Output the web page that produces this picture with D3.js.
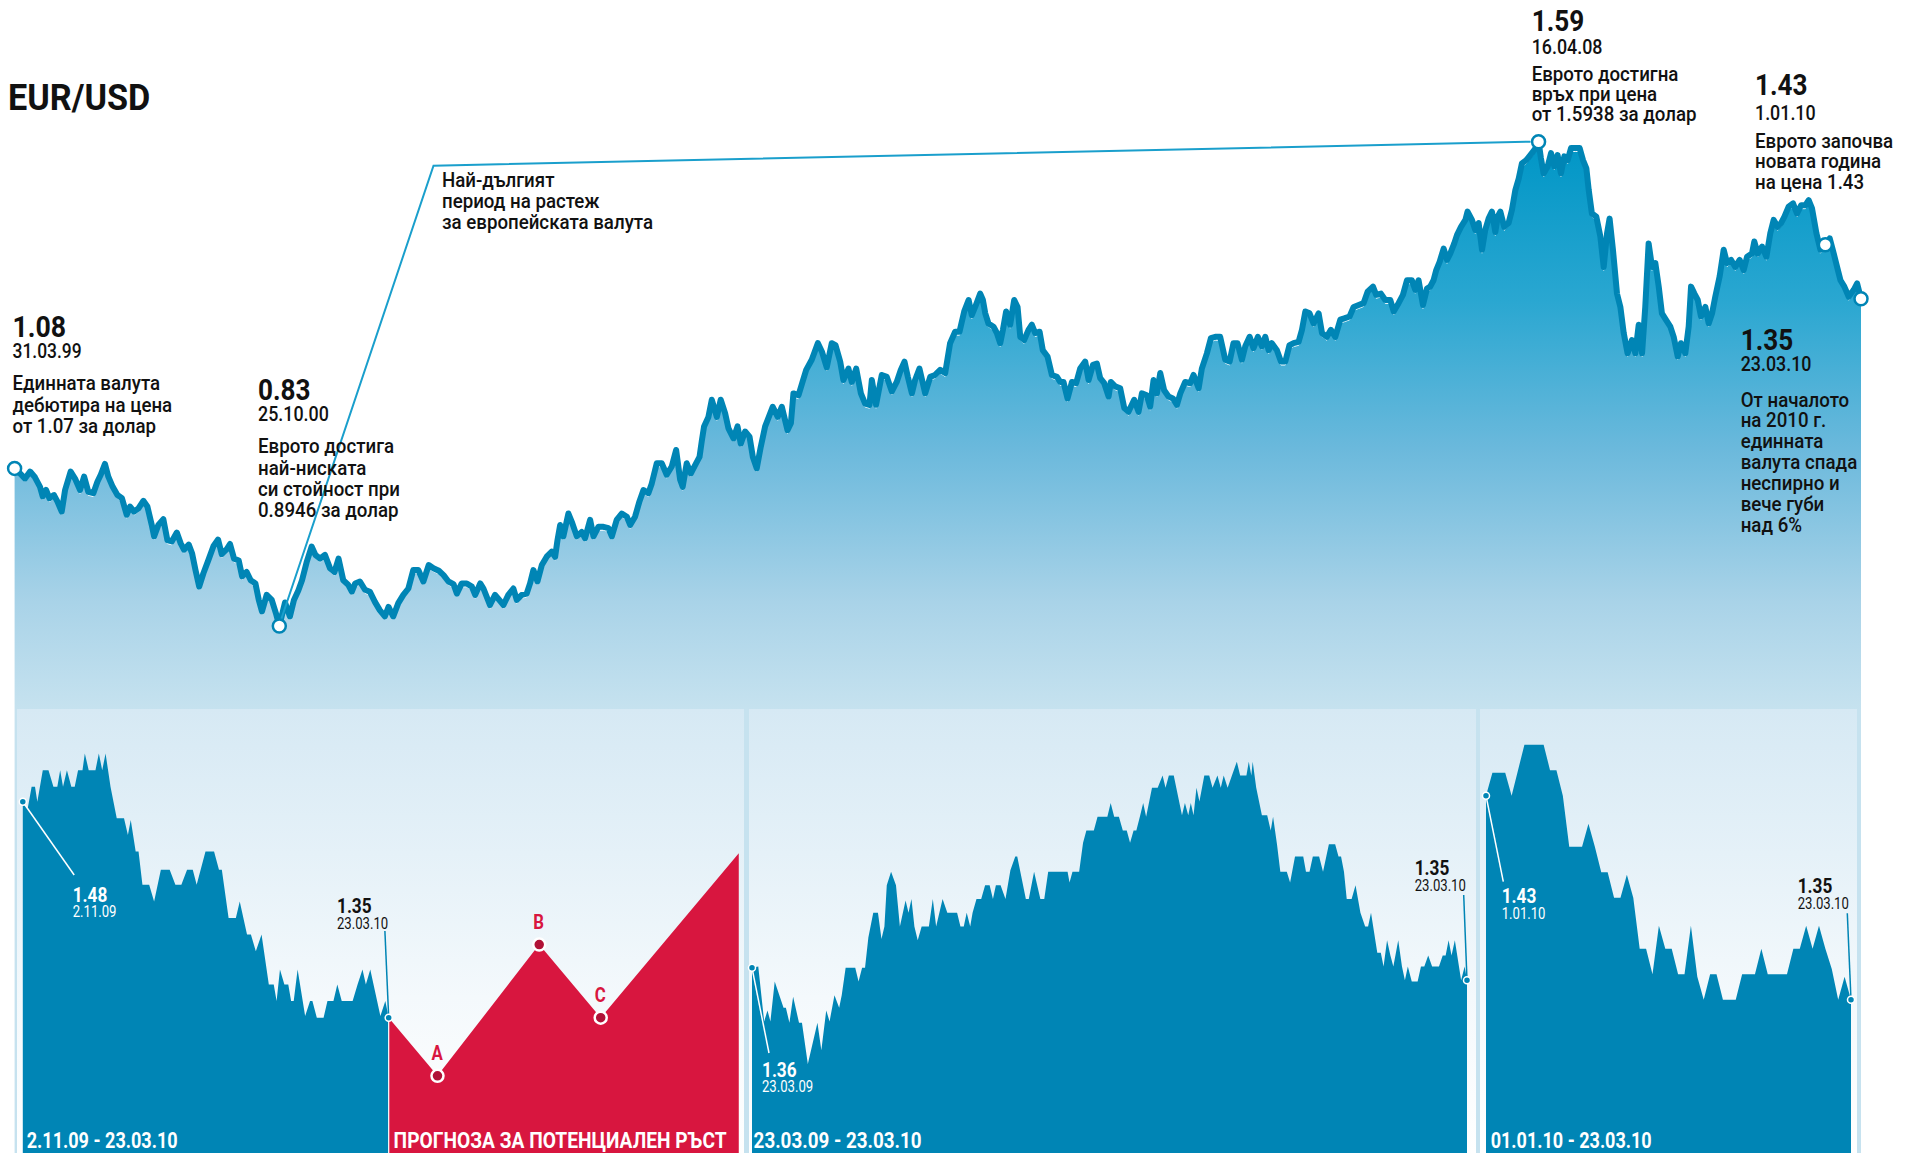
<!DOCTYPE html>
<html>
<head>
<meta charset="utf-8">
<script src="https://cdn.jsdelivr.net/npm/d3@7/dist/d3.min.js"></script>
<style>
  body { margin: 0; background: #fff; }
  text { font-family: Roboto, "Noto Sans", sans-serif; }
</style>
</head>
<body>
<script>
// EUR/USD 1999 - 2010, [year, rate]
var eurUsd = [
  [1999.247,1.078],[1999.279,1.070],[1999.309,1.062],[1999.339,1.073],[1999.368,1.064],[1999.398,1.049],[1999.414,1.034],[1999.434,1.044],
  [1999.454,1.031],[1999.481,1.036],[1999.501,1.026],[1999.527,1.010],[1999.547,1.044],[1999.580,1.073],[1999.606,1.062],[1999.636,1.044],
  [1999.660,1.065],[1999.685,1.041],[1999.715,1.039],[1999.739,1.057],[1999.759,1.068],[1999.784,1.085],[1999.804,1.065],[1999.830,1.049],
  [1999.858,1.036],[1999.885,1.031],[1999.913,1.005],[1999.933,1.018],[1999.957,1.010],[1999.983,1.015],[2000.012,1.027],[2000.036,1.018],
  [2000.062,0.989],[2000.076,0.971],[2000.101,0.989],[2000.131,0.998],[2000.155,0.965],[2000.181,0.963],[2000.211,0.977],[2000.234,0.960],
  [2000.254,0.950],[2000.282,0.958],[2000.302,0.944],[2000.322,0.918],[2000.344,0.892],[2000.369,0.913],[2000.399,0.934],[2000.429,0.956],
  [2000.456,0.966],[2000.478,0.943],[2000.508,0.951],[2000.527,0.959],[2000.551,0.936],[2000.579,0.933],[2000.599,0.908],[2000.626,0.915],
  [2000.650,0.902],[2000.678,0.897],[2000.698,0.871],[2000.717,0.853],[2000.745,0.879],[2000.775,0.871],[2000.800,0.850],[2000.820,0.830],
  [2000.854,0.867],[2000.883,0.845],[2000.907,0.871],[2000.933,0.886],[2000.955,0.902],[2000.982,0.930],[2001.012,0.955],[2001.034,0.942],
  [2001.062,0.936],[2001.091,0.942],[2001.121,0.921],[2001.148,0.915],[2001.172,0.936],[2001.200,0.902],[2001.229,0.895],[2001.251,0.884],
  [2001.271,0.897],[2001.299,0.900],[2001.329,0.887],[2001.358,0.884],[2001.388,0.868],[2001.417,0.855],[2001.447,0.845],[2001.469,0.860],
  [2001.497,0.845],[2001.527,0.866],[2001.557,0.879],[2001.587,0.889],[2001.616,0.918],[2001.646,0.918],[2001.676,0.900],[2001.708,0.926],
  [2001.736,0.921],[2001.768,0.917],[2001.796,0.910],[2001.825,0.900],[2001.855,0.896],[2001.875,0.881],[2001.904,0.897],[2001.934,0.897],
  [2001.964,0.892],[2001.984,0.879],[2002.014,0.897],[2002.033,0.889],[2002.072,0.863],[2002.102,0.879],[2002.152,0.863],[2002.181,0.879],
  [2002.211,0.889],[2002.231,0.871],[2002.261,0.879],[2002.290,0.881],[2002.310,0.897],[2002.330,0.918],[2002.354,0.900],[2002.380,0.926],
  [2002.409,0.939],[2002.439,0.947],[2002.459,0.939],[2002.473,0.965],[2002.489,0.989],[2002.508,0.971],[2002.538,1.007],[2002.558,0.994],
  [2002.588,0.971],[2002.617,0.978],[2002.637,0.968],[2002.667,0.997],[2002.687,0.971],[2002.716,0.986],[2002.746,0.986],[2002.776,0.984],
  [2002.796,0.971],[2002.825,0.997],[2002.855,1.007],[2002.885,1.002],[2002.905,0.989],[2002.934,1.002],[2002.960,1.026],[2002.984,1.044],
  [2003.013,1.039],[2003.033,1.054],[2003.063,1.086],[2003.093,1.086],[2003.122,1.068],[2003.152,1.081],[2003.178,1.107],[2003.202,1.060],
  [2003.217,1.049],[2003.241,1.086],[2003.265,1.070],[2003.291,1.083],[2003.317,1.096],[2003.330,1.120],[2003.344,1.144],[2003.370,1.159],
  [2003.390,1.186],[2003.420,1.159],[2003.443,1.186],[2003.469,1.165],[2003.489,1.141],[2003.519,1.125],[2003.543,1.144],[2003.562,1.117],
  [2003.588,1.136],[2003.614,1.128],[2003.634,1.096],[2003.657,1.078],[2003.681,1.112],[2003.707,1.144],[2003.729,1.159],[2003.752,1.175],
  [2003.782,1.159],[2003.806,1.175],[2003.840,1.138],[2003.860,1.149],[2003.875,1.196],[2003.905,1.193],[2003.927,1.212],[2003.951,1.233],
  [2003.984,1.249],[2004.020,1.275],[2004.044,1.262],[2004.073,1.237],[2004.103,1.275],[2004.125,1.272],[2004.153,1.246],[2004.172,1.217],
  [2004.202,1.235],[2004.222,1.214],[2004.248,1.235],[2004.276,1.196],[2004.301,1.180],[2004.327,1.178],[2004.341,1.217],[2004.366,1.178],
  [2004.400,1.225],[2004.430,1.222],[2004.460,1.199],[2004.489,1.214],[2004.513,1.233],[2004.535,1.246],[2004.555,1.222],[2004.579,1.196],
  [2004.598,1.217],[2004.624,1.235],[2004.658,1.196],[2004.688,1.222],[2004.717,1.225],[2004.747,1.233],[2004.777,1.228],[2004.806,1.275],
  [2004.836,1.293],[2004.862,1.293],[2004.890,1.325],[2004.916,1.343],[2004.935,1.319],[2004.955,1.332],[2004.985,1.353],[2005.001,1.343],
  [2005.015,1.322],[2005.034,1.306],[2005.064,1.301],[2005.084,1.291],[2005.104,1.275],[2005.120,1.296],[2005.139,1.325],[2005.163,1.304],
  [2005.187,1.343],[2005.207,1.332],[2005.223,1.285],[2005.246,1.280],[2005.272,1.296],[2005.292,1.304],[2005.312,1.291],[2005.338,1.293],
  [2005.357,1.264],[2005.385,1.254],[2005.411,1.225],[2005.441,1.222],[2005.460,1.214],[2005.480,1.214],[2005.504,1.188],[2005.530,1.214],
  [2005.555,1.212],[2005.579,1.235],[2005.609,1.246],[2005.629,1.217],[2005.655,1.241],[2005.678,1.243],[2005.698,1.220],[2005.722,1.212],
  [2005.748,1.191],[2005.761,1.214],[2005.787,1.207],[2005.817,1.204],[2005.841,1.173],[2005.866,1.167],[2005.900,1.186],[2005.926,1.167],
  [2005.946,1.196],[2005.975,1.193],[2005.995,1.175],[2006.015,1.217],[2006.035,1.196],[2006.055,1.228],[2006.078,1.201],[2006.104,1.191],
  [2006.130,1.188],[2006.154,1.178],[2006.174,1.196],[2006.203,1.214],[2006.233,1.212],[2006.253,1.225],[2006.283,1.204],[2006.302,1.235],
  [2006.332,1.259],[2006.356,1.283],[2006.382,1.285],[2006.411,1.285],[2006.441,1.249],[2006.467,1.246],[2006.490,1.275],[2006.514,1.275],
  [2006.540,1.249],[2006.560,1.270],[2006.586,1.285],[2006.609,1.267],[2006.635,1.285],[2006.659,1.270],[2006.679,1.285],[2006.699,1.264],
  [2006.718,1.275],[2006.748,1.264],[2006.772,1.246],[2006.798,1.246],[2006.823,1.272],[2006.847,1.275],[2006.877,1.277],[2006.897,1.296],
  [2006.917,1.325],[2006.942,1.322],[2006.966,1.306],[2006.996,1.322],[2007.016,1.291],[2007.045,1.285],[2007.069,1.296],[2007.095,1.285],
  [2007.125,1.312],[2007.148,1.314],[2007.180,1.317],[2007.204,1.332],[2007.234,1.335],[2007.263,1.338],[2007.287,1.356],[2007.319,1.364],
  [2007.338,1.351],[2007.366,1.353],[2007.392,1.343],[2007.422,1.343],[2007.442,1.325],[2007.471,1.338],[2007.497,1.351],[2007.521,1.374],
  [2007.550,1.374],[2007.570,1.359],[2007.590,1.374],[2007.616,1.335],[2007.640,1.361],[2007.659,1.364],[2007.679,1.374],[2007.695,1.390],
  [2007.715,1.403],[2007.739,1.424],[2007.759,1.406],[2007.778,1.416],[2007.802,1.432],[2007.818,1.445],[2007.842,1.458],[2007.868,1.469],
  [2007.881,1.482],[2007.907,1.469],[2007.927,1.453],[2007.947,1.464],[2007.967,1.422],[2007.986,1.453],[2008.006,1.471],[2008.026,1.482],
  [2008.046,1.450],[2008.060,1.474],[2008.076,1.482],[2008.099,1.458],[2008.125,1.464],[2008.145,1.485],[2008.165,1.516],[2008.185,1.534],
  [2008.204,1.558],[2008.230,1.563],[2008.254,1.571],[2008.278,1.579],[2008.303,1.592],[2008.317,1.566],[2008.333,1.542],[2008.357,1.553],
  [2008.377,1.574],[2008.397,1.553],[2008.416,1.571],[2008.436,1.542],[2008.456,1.569],[2008.476,1.563],[2008.496,1.582],[2008.521,1.582],
  [2008.547,1.582],[2008.567,1.563],[2008.587,1.550],[2008.601,1.516],[2008.620,1.479],[2008.646,1.474],[2008.670,1.443],[2008.690,1.395],
  [2008.710,1.448],[2008.725,1.471],[2008.745,1.422],[2008.769,1.353],[2008.789,1.332],[2008.809,1.291],[2008.832,1.259],[2008.858,1.280],
  [2008.878,1.259],[2008.898,1.304],[2008.918,1.259],[2008.937,1.332],[2008.957,1.432],[2008.977,1.395],[2008.997,1.401],[2009.017,1.364],
  [2009.036,1.322],[2009.062,1.311],[2009.086,1.301],[2009.106,1.285],[2009.130,1.254],[2009.149,1.275],[2009.175,1.259],[2009.195,1.301],
  [2009.209,1.364],[2009.229,1.353],[2009.249,1.343],[2009.268,1.317],[2009.294,1.332],[2009.314,1.306],[2009.334,1.322],[2009.353,1.348],
  [2009.379,1.380],[2009.403,1.422],[2009.423,1.401],[2009.447,1.406],[2009.472,1.395],[2009.498,1.406],[2009.522,1.390],[2009.542,1.411],
  [2009.571,1.416],[2009.585,1.435],[2009.605,1.416],[2009.631,1.427],[2009.657,1.411],[2009.680,1.448],[2009.700,1.469],[2009.724,1.458],
  [2009.744,1.464],[2009.764,1.474],[2009.789,1.490],[2009.815,1.495],[2009.839,1.479],[2009.863,1.492],[2009.888,1.492],[2009.908,1.500],
  [2009.928,1.487],[2009.954,1.448],[2009.978,1.422],[2010.007,1.430],[2010.033,1.440],[2010.057,1.416],[2010.077,1.395],[2010.097,1.374],
  [2010.120,1.364],[2010.146,1.348],[2010.176,1.359],[2010.196,1.369],[2010.219,1.345]
];

// marked points on the big chart: [year, rate]
var mainMarks = [[1999.247,1.078],[2000.820,0.830],[2008.303,1.592],[2010.007,1.430],[2010.219,1.345]];

// panel 1: 2.11.09 - 23.03.10, [days from 2.11.09, rate]
var panel1 = [
  [0,1.480],[1.9,1.476],[3.4,1.489],[4.7,1.489],[5.6,1.480],[7.7,1.499],[9.9,1.499],[11.8,1.489],[13.3,1.489],[14.4,1.499],
  [15.5,1.489],[17.0,1.499],[18.7,1.489],[20.0,1.489],[21.3,1.499],[23.0,1.499],[23.9,1.509],[25.4,1.499],[28.0,1.499],[29.3,1.509],
  [30.6,1.499],[31.9,1.509],[33.8,1.489],[36.2,1.470],[39.0,1.470],[40.5,1.460],[41.6,1.469],[43.5,1.450],[44.6,1.450],[46.1,1.430],
  [48.7,1.430],[50.6,1.420],[53.2,1.439],[56.6,1.439],[58.8,1.430],[61.1,1.430],[63.3,1.439],[65.5,1.439],[67.0,1.430],[70.4,1.450],
  [73.7,1.450],[75.6,1.439],[76.7,1.439],[79.3,1.410],[82.1,1.410],[83.6,1.420],[86.4,1.400],[87.9,1.400],[89.8,1.390],[92.0,1.400],
  [94.8,1.370],[96.7,1.370],[97.8,1.360],[99.1,1.379],[100.8,1.370],[102.3,1.370],[103.4,1.360],[104.4,1.360],[105.9,1.379],[108.8,1.351],
  [110.7,1.360],[111.6,1.360],[113.3,1.350],[115.9,1.350],[117.4,1.360],[119.7,1.360],[121.2,1.370],[122.9,1.360],[127.1,1.360],[129.0,1.370],
  [130.9,1.379],[132.2,1.370],[133.9,1.379],[137.8,1.351],[139.7,1.360],[141,1.350]
];
// forecast A-B-C, same day axis as panel 1
var forecast = [[141,1.350],[159.8,1.315],[199.0,1.394],[222.7,1.350],[275.9,1.449]];
var forecastLetters = ["", "A", "B", "C", ""];

// panel 2: 23.03.09 - 23.03.10, [days from 23.03.09, rate]
var panel2 = [
  [0,1.360],[3.2,1.361],[6.2,1.321],[7.9,1.329],[9.4,1.321],[11.6,1.350],[16.1,1.331],[17.3,1.331],[19.1,1.320],[21.0,1.339],
  [24.0,1.320],[25.5,1.320],[28.5,1.290],[33.4,1.320],[35.4,1.300],[37.9,1.329],[39.6,1.321],[42.1,1.340],[44.5,1.331],[45.8,1.340],
  [47.8,1.360],[52.7,1.360],[54.4,1.350],[56.2,1.360],[57.7,1.360],[59.4,1.382],[61.9,1.400],[64.3,1.400],[66.1,1.381],[67.6,1.390],
  [68.8,1.420],[71.0,1.430],[73.5,1.420],[75.5,1.390],[78.4,1.409],[79.9,1.400],[81.4,1.410],[82.9,1.390],[84.6,1.380],[86.6,1.390],
  [90.3,1.390],[92.3,1.410],[94.0,1.390],[97.3,1.410],[99.7,1.400],[104.7,1.400],[106.4,1.390],[108.1,1.390],[109.6,1.400],[111.4,1.390],
  [112.6,1.400],[114.6,1.410],[117.0,1.410],[119.0,1.420],[121.3,1.420],[123.0,1.410],[124.5,1.420],[126.9,1.420],[129.4,1.410],[131.9,1.431],
  [134.4,1.441],[135.4,1.441],[139.8,1.410],[141.3,1.410],[144.0,1.430],[147.2,1.410],[149.2,1.410],[151.2,1.430],[161.1,1.430],[162.1,1.422],
  [163.6,1.430],[167.0,1.430],[169.0,1.451],[170.7,1.460],[174.5,1.460],[176.4,1.470],[181.4,1.470],[183.1,1.480],[184.9,1.470],[187.3,1.470],
  [189.3,1.460],[191.3,1.460],[193.0,1.451],[194.8,1.460],[196.2,1.460],[198.0,1.470],[199.7,1.480],[201.2,1.470],[204.2,1.491],[207.1,1.491],
  [209.6,1.500],[211.1,1.491],[212.8,1.500],[215.3,1.500],[219.5,1.471],[221.0,1.480],[222.7,1.471],[224.0,1.480],[225.4,1.471],[226.9,1.491],
  [228.4,1.481],[230.9,1.500],[233.4,1.500],[235.1,1.491],[237.6,1.500],[239.3,1.491],[240.8,1.500],[242.8,1.491],[245.0,1.500],[247.5,1.510],
  [249.2,1.500],[252.4,1.500],[253.6,1.510],[254.9,1.500],[255.6,1.510],[257.4,1.491],[260.3,1.471],[263.0,1.471],[264.8,1.460],[266.0,1.470],
  [268.0,1.450],[269.7,1.430],[273.0,1.430],[274.7,1.422],[277.2,1.441],[281.4,1.441],[282.8,1.430],[284.6,1.430],[286.3,1.441],[289.5,1.441],
  [291.5,1.430],[294.5,1.450],[297.7,1.450],[299.4,1.441],[300.7,1.441],[302.2,1.430],[303.6,1.410],[306.1,1.410],[308.1,1.420],[310.6,1.400],
  [313.0,1.390],[314.5,1.390],[316.0,1.400],[319.2,1.371],[321.0,1.371],[322.4,1.361],[324.2,1.380],[325.9,1.369],[327.4,1.361],[329.9,1.380],
  [331.8,1.361],[333.3,1.351],[334.8,1.361],[336.8,1.350],[339.8,1.350],[341.5,1.361],[343.2,1.361],[345.2,1.369],[347.2,1.361],[350.7,1.361],
  [352.6,1.369],[354.1,1.369],[355.6,1.380],[357.1,1.369],[358.8,1.380],[362.0,1.351],[363.8,1.361],[365,1.351]
];

// panel 3: 01.01.10 - 23.03.10, one value per trading day
var panel3 = [
  1.430,1.439,1.439,1.439,1.430,1.440,1.450,1.450,1.450,1.450,1.440,1.440,1.430,1.410,1.410,1.410,1.419,1.410,1.400,1.400,
  1.390,1.390,1.399,1.390,1.370,1.370,1.360,1.379,1.370,1.370,1.360,1.360,1.379,1.359,1.350,1.360,1.360,1.350,1.350,1.350,
  1.360,1.360,1.360,1.370,1.360,1.360,1.360,1.360,1.370,1.370,1.379,1.370,1.379,1.370,1.362,1.350,1.359,1.350
];

var panelTitles = ["2.11.09 - 23.03.10", "ПРОГНОЗА ЗА ПОТЕНЦИАЛЕН РЪСТ", "23.03.09 - 23.03.10", "01.01.10 - 23.03.10"];

var W = 1912, H = 1153;
var blue = "#0085b5", red = "#d8163f", ink = "#111";

var svg = d3.select("body").append("svg")
    .attr("width", W)
    .attr("height", H);

// the paper's face is a condensed one, so glyphs get squeezed sideways
function squeeze(sel, f) {
  sel.each(function(){
    var w = this.getComputedTextLength();
    d3.select(this).attr("textLength", w * f).attr("lengthAdjust", "spacingAndGlyphs");
  });
  return sel;
}

var defs = svg.append("defs");
function gradient(id, y1, y2, stops) {
  var g = defs.append("linearGradient").attr("id", id)
      .attr("gradientUnits", "userSpaceOnUse")
      .attr("x1", 0).attr("x2", 0).attr("y1", y1).attr("y2", y2);
  stops.forEach(function(s){ g.append("stop").attr("offset", s[0]).attr("stop-color", s[1]); });
}
gradient("mainGrad", 143, 710, [[0,"#0096c6"],[0.28,"#2aa7d1"],[0.54,"#6bb9dc"],[0.81,"#a9d3e8"],[1,"#c6e2ef"]]);
gradient("panelGrad", 709, 1153, [[0,"#d6e9f4"],[0.65,"#f4f9fc"],[1,"#ffffff"]]);

// ---- big chart
var x = d3.scaleLinear().domain(d3.extent(eurUsd, function(d){ return d[0]; })).range([14.6, 1861]);
var y = d3.scaleLinear().domain([0.83, 1.59]).range([626, 143]);

svg.append("path")
    .datum(eurUsd)
    .attr("d", d3.area().x(function(d){ return x(d[0]); }).y0(H).y1(function(d){ return y(d[1]) + 3; }))
    .attr("fill", "url(#mainGrad)");

svg.append("path")
    .datum(eurUsd)
    .attr("d", d3.line().x(function(d){ return x(d[0]); }).y(function(d){ return y(d[1]) + 3.4; }))
    .attr("fill", "none")
    .attr("stroke", "#fff")
    .attr("stroke-width", 1);

svg.append("path")
    .datum(eurUsd)
    .attr("d", d3.line().x(function(d){ return x(d[0]); }).y(function(d){ return y(d[1]); }))
    .attr("fill", "none")
    .attr("stroke", blue)
    .attr("stroke-width", 6)
    .attr("stroke-linejoin", "round")
    .attr("stroke-linecap", "round");

// leader line from the low to the high
var low = mainMarks[1], high = mainMarks[2];
svg.append("path")
    .attr("d", d3.line()([[x(low[0]) + 2, y(low[1]) - 7], [433.5, 165.7], [x(high[0]) - 8, y(high[1])]]))
    .attr("fill", "none")
    .attr("stroke", "#1a9fcc")
    .attr("stroke-width", 2);

// ---- panels
var panels = [[17, 744], [749, 1476], [1480, 1857]];
svg.append("g").selectAll("rect")
    .data(panels)
    .enter().append("rect")
    .attr("x", function(d){ return d[0]; })
    .attr("y", 709)
    .attr("width", function(d){ return d[1] - d[0]; })
    .attr("height", H - 709)
    .attr("fill", "url(#panelGrad)");

// panel 1
var x1 = d3.scaleLinear().domain([0, 141]).range([22.8, 388.7]);
var y1 = d3.scaleLinear().domain([1.35, 1.48]).range([1017.7, 801.7]);
svg.append("path").datum(forecast)
    .attr("d", d3.area().x(function(d){ return x1(d[0]); }).y0(H).y1(function(d){ return y1(d[1]); }))
    .attr("fill", red);
svg.append("path").datum(panel1)
    .attr("d", d3.area().x(function(d){ return x1(d[0]); }).y0(H).y1(function(d){ return y1(d[1]); }))
    .attr("fill", blue);
svg.append("line")
    .attr("x1", x1(141)).attr("x2", x1(141))
    .attr("y1", y1(1.35)).attr("y2", H)
    .attr("stroke", "#fff").attr("stroke-width", 1.2);

var abc = forecast.filter(function(d, i){ return forecastLetters[i] !== ""; });
var abcLetters = forecastLetters.filter(function(l){ return l !== ""; });
svg.append("g").selectAll("circle")
    .data(abc)
    .enter().append("circle")
    .attr("cx", function(d){ return x1(d[0]); })
    .attr("cy", function(d){ return y1(d[1]); })
    .attr("r", 6)
    .attr("fill", "#b01237")
    .attr("stroke", "#fff")
    .attr("stroke-width", 2.5);
squeeze(svg.append("g").selectAll("text")
    .data(abc)
    .enter().append("text")
    .attr("x", function(d){ return x1(d[0]) - 6; })
    .attr("y", function(d){ return y1(d[1]) - 16; })
    .attr("font-size", 21)
    .attr("font-weight", "bold")
    .attr("fill", red)
    .text(function(d, i){ return abcLetters[i]; }), 0.8);

// panel 2
var x2 = d3.scaleLinear().domain([0, 365]).range([752, 1467]);
var y2 = d3.scaleLinear().domain([1.29, 1.51]).range([1064, 761.7]);
svg.append("path").datum(panel2)
    .attr("d", d3.area().x(function(d){ return x2(d[0]); }).y0(H).y1(function(d){ return y2(d[1]); }))
    .attr("fill", blue);

// panel 3
var x3 = d3.scaleLinear().domain([0, panel3.length - 1]).range([1486, 1851]);
var y3 = d3.scaleLinear().domain([1.35, 1.43]).range([999.7, 795.7]);
svg.append("path").datum(panel3)
    .attr("d", d3.area().x(function(d, i){ return x3(i); }).y0(H).y1(function(d){ return y3(d); }))
    .attr("fill", blue);

// start / end dots with leaders and labels of the panels
function tag(px, py, lx, ly, tx, value, date, color, baseY) {
  svg.append("line")
      .attr("x1", px).attr("y1", py).attr("x2", lx).attr("y2", ly)
      .attr("stroke", color === "#fff" ? "#fff" : blue).attr("stroke-width", 1.5);
  svg.append("circle")
      .attr("cx", px).attr("cy", py).attr("r", 3.5)
      .attr("fill", blue).attr("stroke", "#fff").attr("stroke-width", 1.5);
  squeeze(svg.append("text").attr("x", tx).attr("y", baseY)
      .attr("font-size", 21).attr("font-weight", "bold").attr("fill", color).text(value), 0.82);
  squeeze(svg.append("text").attr("x", tx).attr("y", baseY + 15.5)
      .attr("font-size", 16).attr("fill", color).text(date), 0.82);
}
tag(x1(0), y1(panel1[0][1]), 74.2, 875, 72.7, "1.48", "2.11.09", "#fff", 901.5);
tag(x1(141), y1(1.35), 384.9, 931, 337, "1.35", "23.03.10", ink, 913.3);
tag(x2(0), y2(panel2[0][1]), 769, 1053, 762, "1.36", "23.03.09", "#fff", 1076.7);
tag(x2(365), y2(panel2[panel2.length - 1][1]), 1463.7, 895, 1414.7, "1.35", "23.03.10", ink, 875);
tag(x3(0), y3(panel3[0]), 1503.3, 881.7, 1501.7, "1.43", "1.01.10", "#fff", 903.3);
tag(x3(panel3.length - 1), y3(panel3[panel3.length - 1]), 1847.3, 913.3, 1797.7, "1.35", "23.03.10", ink, 893.3);

// panel titles, squeezed to the widths they take in the paper
var titleX = [26.7, 393.6, 753.6, 1490.7];
var titleW = [151, 333, 168, 161];
svg.append("g").selectAll("text")
    .data(panelTitles)
    .enter().append("text")
    .attr("x", function(d, i){ return titleX[i]; })
    .attr("y", 1148)
    .attr("font-size", 22)
    .attr("font-weight", "bold")
    .attr("fill", "#fff")
    .attr("textLength", function(d, i){ return titleW[i]; })
    .attr("lengthAdjust", "spacingAndGlyphs")
    .text(function(d){ return d; });

// ---- marks on the big chart
svg.append("g").selectAll("circle")
    .data(mainMarks)
    .enter().append("circle")
    .attr("cx", function(d){ return x(d[0]); })
    .attr("cy", function(d){ return y(d[1]); })
    .attr("r", 6.5)
    .attr("fill", "#fff")
    .attr("stroke", blue)
    .attr("stroke-width", 2.5);

// ---- text blocks: [text, baseline, size, bold, squeeze]
function block(tx, lines) {
  lines.forEach(function(l){
    var t = svg.append("text")
        .attr("x", tx).attr("y", l[1])
        .attr("font-size", l[2] || 21)
        .attr("font-weight", l[3] ? "bold" : 500)
        .attr("fill", ink)
        .text(l[0]);
    squeeze(t, l[4] || (l[3] ? 0.9 : 0.89));
  });
}
block(8, [["EUR/USD", 110, 36, true, 0.95]]);
block(12.5, [["1.08", 337, 29, true, 0.92], ["31.03.99", 358, 21, false, 0.83], ["Единната валута", 390], ["дебютира на цена", 411.5], ["от 1.07 за долар", 433]]);
block(258, [["0.83", 400, 29, true], ["25.10.00", 420.5, 21, false, 0.85], ["Еврото достига", 453], ["най-ниската", 474.5], ["си стойност при", 496], ["0.8946 за долар", 517]]);
block(442, [["Най-дългият", 187], ["период на растеж", 208], ["за европейската валута", 229]]);
block(1531.7, [["1.59", 30.5, 29, true], ["16.04.08", 53.5, 21, false, 0.85], ["Еврото достигна", 80.5], ["връх при цена", 100.5], ["от 1.5938 за долар", 120.5]]);
block(1755, [["1.43", 95, 29, true], ["1.01.10", 119.5, 21, false, 0.85], ["Еврото започва", 147.5], ["новата година", 168], ["на цена 1.43", 189]]);
block(1740.7, [["1.35", 350, 29, true], ["23.03.10", 371, 21, false, 0.85], ["От началото", 406.5], ["на 2010 г.", 427], ["единната", 448],
               ["валута спада", 469], ["неспирно и", 490], ["вече губи", 511], ["над 6%", 532]]);
</script>
</body>
</html>
